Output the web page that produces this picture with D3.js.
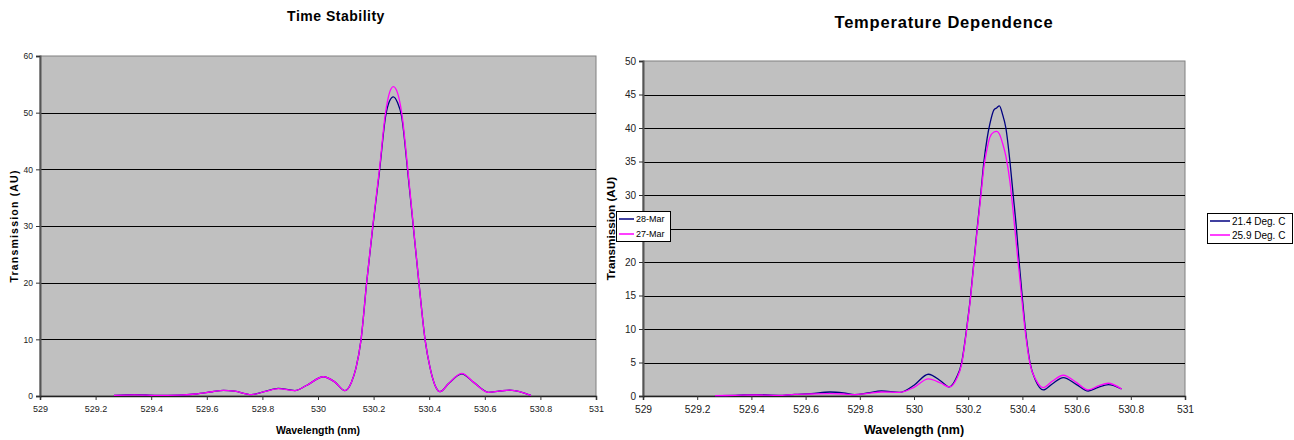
<!DOCTYPE html>
<html>
<head>
<meta charset="utf-8">
<script src="https://cdn.jsdelivr.net/npm/d3@7"></script>
<style>
  html, body { margin: 0; padding: 0; background: #fff; }
  svg { display: block; font-family: "Liberation Sans", Arial, sans-serif; }
</style>
</head>
<body>
<svg id="chart" width="1294" height="440"></svg>
<script>
// ---- Time Stability data ----
const wlTime = [529.266, 529.34, 529.42, 529.50, 529.56, 529.62, 529.66, 529.70, 529.76, 529.81,
  529.857, 529.917, 529.96, 530.019, 530.06, 530.097, 530.12, 530.137, 530.155, 530.175,
  530.197, 530.221, 530.243, 530.257, 530.271, 530.286, 530.301, 530.323, 530.343, 530.363,
  530.385, 530.403, 530.42, 530.439, 530.47, 530.517, 530.56, 530.613, 530.65, 530.69,
  530.73, 530.766];
const mar28 = [0.1, 0.25, 0.1, 0.15, 0.35, 0.75, 1.0, 0.85, 0.25, 0.8,
  1.35, 0.95, 1.9, 3.4, 2.5, 0.95, 2.4, 5, 10, 20,
  29.8, 39.6, 49.3, 52.0, 52.8, 51.8, 49.3, 39.5, 29.8, 20,
  10, 5, 2, 0.77, 2.2, 3.9, 2.4, 0.65, 0.85, 1.05,
  0.7, 0.1];
const mar27 = [0.1, 0.2, 0.1, 0.15, 0.35, 0.75, 1.0, 0.85, 0.25, 0.8,
  1.3, 0.95, 1.9, 3.4, 2.5, 0.95, 2.4, 5, 10, 20,
  30, 40, 50, 53.5, 54.6, 53.5, 50, 40, 30, 20,
  10, 5, 2, 0.77, 2.2, 4.0, 2.4, 0.65, 0.85, 1.05,
  0.7, 0.1];

// ---- Temperature Dependence data ----
const wlTemp = [529.266, 529.34, 529.42, 529.50, 529.56, 529.62, 529.69, 529.74, 529.782, 529.83,
  529.88, 529.948, 530.0, 530.053, 530.10, 530.130, 530.155, 530.176, 530.194, 530.209,
  530.221, 530.233, 530.246, 530.258, 530.270, 530.280, 530.295, 530.305, 530.315, 530.327,
  530.339, 530.354, 530.366, 530.378, 530.388, 530.399, 530.411, 530.428, 530.45, 530.477,
  530.51, 530.551, 530.60, 530.643, 530.68, 530.717, 530.766];
const deg214 = [0.05, 0.1, 0.2, 0.1, 0.25, 0.35, 0.6, 0.45, 0.2, 0.45,
  0.75, 0.55, 1.6, 3.25, 2.2, 1.35, 2.6, 5, 10, 15,
  20, 25, 30, 35, 38.5, 40.6, 42.7, 43.0, 43.3, 42,
  40, 35, 30, 25, 20, 15, 10, 5, 2.2, 0.9,
  1.8, 2.75, 1.7, 0.75, 1.3, 1.7, 1.05];
const deg259 = [0.05, 0.1, 0.15, 0.1, 0.25, 0.3, 0.35, 0.3, 0.2, 0.4,
  0.6, 0.55, 1.3, 2.55, 1.9, 1.35, 2.4, 4.8, 9.8, 14.8,
  19.8, 24.7, 29.6, 34.2, 37, 38.6, 39.4, 39.5, 39.1, 37.7,
  35.8, 32, 27.5, 22.5, 18.5, 14, 9.5, 4.8, 2.4, 1.25,
  2.2, 3.1, 2.0, 0.9, 1.5, 1.9, 1.05];

const xTicks = [529, 529.2, 529.4, 529.6, 529.8, 530, 530.2, 530.4, 530.6, 530.8, 531];
const yTicksTime = [0, 10, 20, 30, 40, 50, 60];
const yTicksTemp = [0, 5, 10, 15, 20, 25, 30, 35, 40, 45, 50];

const NAVY = "#000080", MAGENTA = "#FF00FF";

const svg = d3.select("#chart");
const panelLayer = svg.append("g");
const legendLayer = svg.append("g"); // legends sit above both panels

function drawPanel(cfg) {
  const { left, right, top, bottom, yMax, yTicks, x, series, fs } = cfg;
  const xs = d3.scaleLinear().domain([529, 531]).range([left, right]);
  const ys = d3.scaleLinear().domain([0, yMax]).range([bottom, top]);
  const g = panelLayer.append("g");

  // plot area
  g.append("rect").attr("x", left).attr("y", top)
    .attr("width", right - left).attr("height", bottom - top)
    .attr("fill", "#C0C0C0").attr("stroke", "#808080").attr("stroke-width", 1);

  // gridlines
  g.append("g").selectAll("line").data(yTicks.filter(d => d > 0 && d < yMax)).join("line")
    .attr("x1", left).attr("x2", right)
    .attr("y1", d => Math.round(ys(d)) + 0.5).attr("y2", d => Math.round(ys(d)) + 0.5)
    .attr("stroke", "#000").attr("stroke-width", 1);

  // y axis
  const yAxis = d3.axisLeft(ys).tickValues(yTicks).tickSize(4).tickPadding(3).tickFormat(d3.format("d"));
  const ya = g.append("g").attr("transform", `translate(${left},0)`).call(yAxis);
  ya.select(".domain").attr("stroke", "#555").attr("stroke-width", 2);
  ya.selectAll(".tick line").attr("stroke", "#333");
  ya.selectAll(".tick text").attr("font-size", fs.yTick).attr("fill", "#222")
    .attr("font-family", "Liberation Sans, Arial, sans-serif");

  // x axis
  const xAxis = d3.axisBottom(xs).tickValues(xTicks).tickSize(4).tickPadding(6)
    .tickFormat(d => d3.format("")(+d.toFixed(1)));
  const xa = g.append("g").attr("transform", `translate(0,${bottom})`).call(xAxis);
  xa.select(".domain").attr("stroke", "#222").attr("stroke-width", 1.5);
  xa.selectAll(".tick line").attr("stroke", "#333");
  xa.selectAll(".tick text").attr("font-size", fs.xTick).attr("fill", "#222")
    .attr("font-family", "Liberation Sans, Arial, sans-serif");

  // curves
  const line = d3.line().x(d => xs(d[0])).y(d => ys(d[1])).curve(d3.curveMonotoneX);
  series.forEach(s => {
    g.append("path").datum(x.map((w, i) => [w, s.values[i]]))
      .attr("d", line).attr("fill", "none")
      .attr("stroke", s.color).attr("stroke-width", 1.3).attr("stroke-linejoin", "round");
  });

  // titles
  g.append("text").attr("x", cfg.titleX).attr("y", cfg.titleY).attr("text-anchor", "middle")
    .attr("font-weight", "bold").attr("font-size", fs.title).attr("letter-spacing", fs.titleLs)
    .attr("fill", "#000").text(cfg.title);
  g.append("text").attr("x", (left + right) / 2).attr("y", cfg.xLabelY).attr("text-anchor", "middle")
    .attr("font-weight", "bold").attr("font-size", fs.xLabel).attr("fill", "#000")
    .text("Wavelength (nm)");
  g.append("text").attr("transform", `translate(${cfg.yLabelX},${(top + bottom) / 2}) rotate(-90)`)
    .attr("text-anchor", "middle")
    .attr("font-weight", "bold").attr("font-size", fs.yLabel).attr("letter-spacing", fs.yLabelLs)
    .attr("fill", "#000")
    .text("Transmission (AU)");

  // legend
  const L = cfg.legend;
  const lg = legendLayer.append("g");
  lg.append("rect").attr("x", L.x + 0.5).attr("y", L.y + 0.5).attr("width", L.w).attr("height", L.h)
    .attr("fill", "#fff").attr("stroke", "#000").attr("stroke-width", 1);
  series.forEach((s, i) => {
    const yy = L.y + L.pad + i * L.step;
    lg.append("line").attr("x1", L.x + 3).attr("x2", L.x + 3 + L.sw)
      .attr("y1", yy).attr("y2", yy).attr("stroke", s.color).attr("stroke-width", 1.5);
    lg.append("text").attr("x", L.x + 5 + L.sw).attr("y", yy).attr("dy", "0.35em")
      .attr("font-size", L.fs).attr("fill", "#000").text(s.name);
  });
}

drawPanel({
  left: 40, right: 596, top: 56, bottom: 396, yMax: 60, yTicks: yTicksTime,
  x: wlTime,
  series: [{ name: "28-Mar", values: mar28, color: NAVY }, { name: "27-Mar", values: mar27, color: MAGENTA }],
  fs: { xTick: 9, yTick: 8.5, title: 14, titleLs: 0.5, xLabel: 10.5, yLabel: 10.5, yLabelLs: 1.2 },
  title: "Time Stability", titleX: 336, titleY: 21,
  xLabelY: 434, yLabelX: 18,
  legend: { x: 616, y: 211, w: 54, h: 30, pad: 8, step: 15, sw: 15, fs: 9 }
});

drawPanel({
  left: 643, right: 1185, top: 61, bottom: 396, yMax: 50, yTicks: yTicksTemp,
  x: wlTemp,
  series: [{ name: "21.4 Deg. C", values: deg214, color: NAVY }, { name: "25.9 Deg. C", values: deg259, color: MAGENTA }],
  fs: { xTick: 10.3, yTick: 10, title: 16.5, titleLs: 0.8, xLabel: 12.5, yLabel: 11.7, yLabelLs: 0 },
  title: "Temperature Dependence", titleX: 944, titleY: 28,
  xLabelY: 434, yLabelX: 615,
  legend: { x: 1207, y: 213, w: 85, h: 30, pad: 8, step: 14, sw: 20, fs: 10 }
});
</script>
</body>
</html>
